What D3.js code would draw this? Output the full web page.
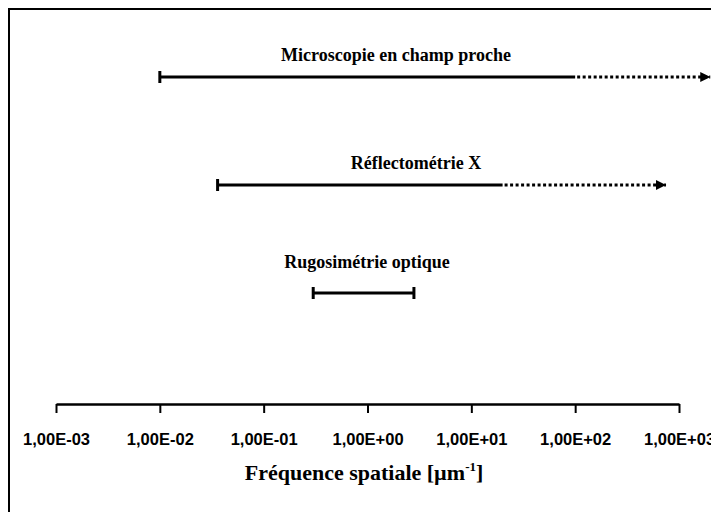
<!DOCTYPE html>
<html lang="fr">
<head>
<meta charset="UTF-8">
<title>Fréquence spatiale</title>
<script src="https://cdn.jsdelivr.net/npm/d3@7"></script>
<style>
    body { margin: 0; background: #fff; }
</style>
</head>
<body>
<svg width="711" height="512"></svg>
<script>
    // data
    var techniques = ["Microscopie en champ proche", "Réflectométrie X", "Rugosimétrie optique"];
    var solidStart = [0.01, 0.036, 0.3];
    var solidEnd = [100, 20, 2.8];
    var dottedEnd = [2000, 750, null];
    var tickValues = [1e-3, 1e-2, 1e-1, 1e0, 1e1, 1e2, 1e3];
    var tickLabels = ["1,00E-03", "1,00E-02", "1,00E-01", "1,00E+00", "1,00E+01", "1,00E+02", "1,00E+03"];

    var serif = "'Liberation Serif', 'Times New Roman', serif";
    var sans = "'Liberation Sans', Arial, sans-serif";

    var svg = d3.select("svg");

    // frame (only top and left edges visible)
    svg.append("rect")
        .attr("x", 9).attr("y", 9)
        .attr("width", 760).attr("height", 560)
        .attr("fill", "none").attr("stroke", "#000").attr("stroke-width", 2);

    var x = d3.scaleLog().domain([1e-3, 1e3]).range([56, 679]);
    var y = d3.scalePoint().domain(techniques).range([77, 293]);

    var axisY = 404;
    var axis = d3.axisBottom(x)
        .tickValues(tickValues)
        .tickFormat(function (d, i) { return tickLabels[i]; })
        .tickSize(9)
        .tickSizeOuter(0)
        .tickPadding(20);

    var gAxis = svg.append("g")
        .attr("transform", "translate(0," + axisY + ")")
        .call(axis);
    gAxis.select(".domain").attr("stroke-width", 2.5);
    gAxis.selectAll(".tick line").attr("stroke-width", 2);
    gAxis.selectAll(".tick text")
        .attr("font-family", sans)
        .attr("font-weight", "bold")
        .attr("font-size", 16.5);

    var title = svg.append("text")
        .attr("x", 364).attr("y", 480)
        .attr("text-anchor", "middle")
        .attr("font-family", serif)
        .attr("font-weight", "bold")
        .attr("font-size", 22)
        .text("Fréquence spatiale [µm");
    title.append("tspan").attr("font-size", 13).attr("dy", -9).text("-1");
    title.append("tspan").attr("dy", 9).text("]");

    svg.append("defs").append("marker")
        .attr("id", "arrow")
        .attr("viewBox", "0 0 10 10")
        .attr("refX", 10).attr("refY", 5)
        .attr("markerWidth", 10).attr("markerHeight", 10)
        .attr("markerUnits", "userSpaceOnUse")
        .attr("orient", "auto")
        .append("path").attr("d", "M0,0L10,5L0,10Z").attr("fill", "#000");

    var rows = svg.selectAll("g.row")
        .data(techniques)
        .enter().append("g").attr("class", "row");

    // solid range
    rows.append("line")
        .attr("x1", function (d, i) { return x(solidStart[i]); })
        .attr("x2", function (d, i) { return x(solidEnd[i]); })
        .attr("y1", function (d) { return y(d); })
        .attr("y2", function (d) { return y(d); })
        .attr("stroke", "#000").attr("stroke-width", 3);

    // start cap
    rows.append("line")
        .attr("x1", function (d, i) { return x(solidStart[i]); })
        .attr("x2", function (d, i) { return x(solidStart[i]); })
        .attr("y1", function (d) { return y(d) - 6; })
        .attr("y2", function (d) { return y(d) + 6; })
        .attr("stroke", "#000").attr("stroke-width", 3);

    // end cap when no extension
    rows.filter(function (d, i) { return dottedEnd[i] == null; })
        .append("line")
        .attr("x1", function (d) { return x(solidEnd[techniques.indexOf(d)]); })
        .attr("x2", function (d) { return x(solidEnd[techniques.indexOf(d)]); })
        .attr("y1", function (d) { return y(d) - 6; })
        .attr("y2", function (d) { return y(d) + 6; })
        .attr("stroke", "#000").attr("stroke-width", 3);

    // dotted extension with arrow
    rows.filter(function (d, i) { return dottedEnd[i] != null; })
        .append("line")
        .attr("x1", function (d) { return x(solidEnd[techniques.indexOf(d)]) + 2; })
        .attr("x2", function (d) { return x(dottedEnd[techniques.indexOf(d)]); })
        .attr("y1", function (d) { return y(d); })
        .attr("y2", function (d) { return y(d); })
        .attr("stroke", "#000").attr("stroke-width", 3)
        .attr("stroke-dasharray", "3,2.5")
        .attr("marker-end", "url(#arrow)");

    rows.append("text")
        .attr("x", function (d, i) { return i == 0 ? 396 : i == 1 ? 416 : 367; })
        .attr("y", function (d, i) { return y(d) - (i == 2 ? 25 : 16); })
        .attr("text-anchor", "middle")
        .attr("font-family", serif)
        .attr("font-weight", "bold")
        .attr("font-size", 18)
        .text(function (d) { return d; });
</script>
</body>
</html>
